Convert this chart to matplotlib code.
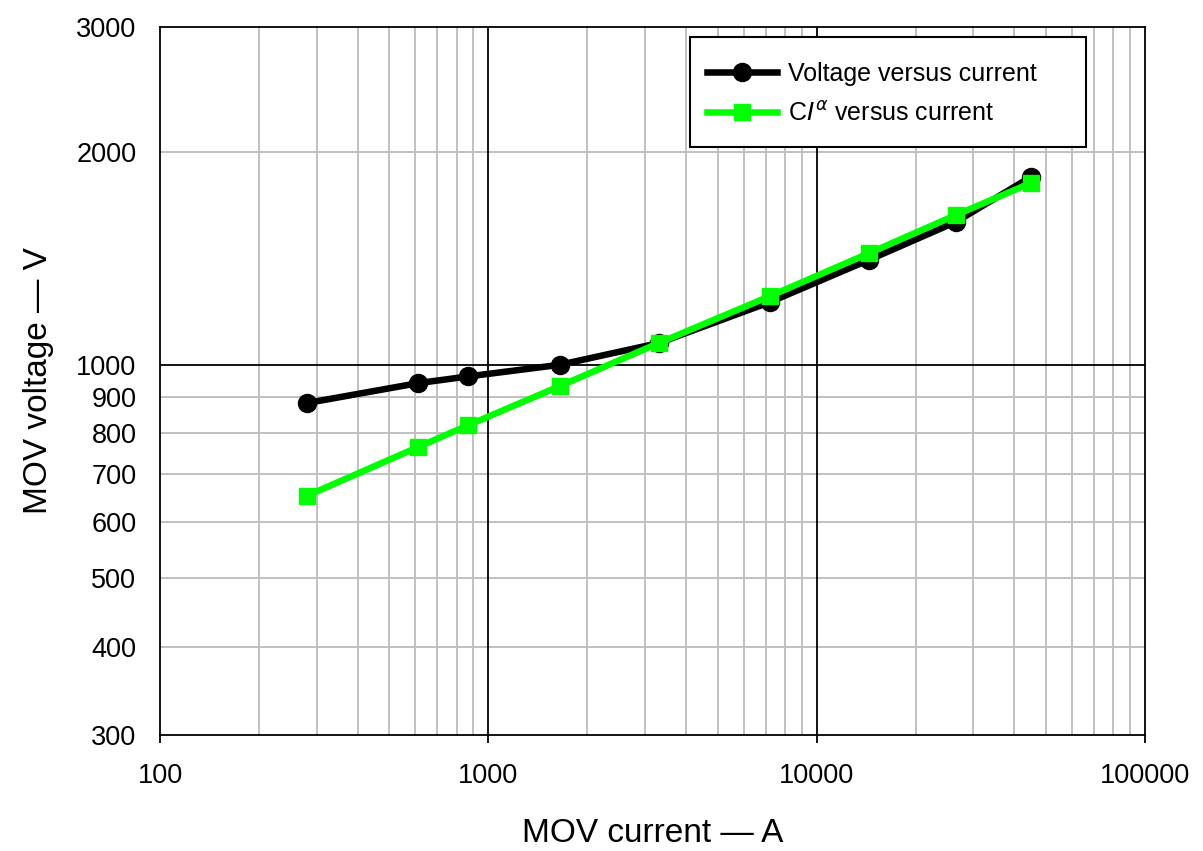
import matplotlib
matplotlib.use("Agg")
import matplotlib.pyplot as plt
from matplotlib.patches import Rectangle
from matplotlib.ticker import FixedLocator, FixedFormatter, NullLocator, NullFormatter

plt.rcParams['font.family'] = ['Liberation Sans', 'DejaVu Sans']

current = [280, 610, 870, 1650, 3300, 7200, 14400, 26500, 45000]
voltage = [883, 942, 963, 1000, 1073, 1226, 1406, 1591, 1843]
ci_alpha = [653, 765, 822, 933, 1073, 1250, 1437, 1627, 1807]

x_ticks = [100, 1000, 10000, 100000]
x_tick_labels = ["100", "1000", "10000", "100000"]
y_ticks = [300, 400, 500, 600, 700, 800, 900, 1000, 2000, 3000]
y_tick_labels = [str(v) for v in y_ticks]

fig = plt.figure(figsize=(12.03, 8.51), dpi=100)
ax = fig.add_axes([160/1203, 1-735/851, (1145-160)/1203, (735-27)/851])
ax.set_xscale('log')
ax.set_yscale('log')
ax.set_xlim(100, 100000)
ax.set_ylim(300, 3000)

# grid lines
for dec in [100, 1000, 10000]:
    for m in range(2, 10):
        ax.axvline(dec*m, color='#c0c0c0', lw=1.4, zorder=0)
for v in [400, 500, 600, 700, 800, 900, 2000]:
    ax.axhline(v, color='#c0c0c0', lw=1.4, zorder=0)
for v in [1000, 10000]:
    ax.axvline(v, color='black', lw=1.3, zorder=0.5)
ax.axhline(1000, color='black', lw=1.3, zorder=0.5)

ax.plot(current, voltage, color='black', lw=4.7, marker='o', markersize=13,
        label='Voltage versus current', zorder=3)
ax.plot(current, ci_alpha, color='#00ff00', lw=4.7, marker='s', markersize=11.5,
        label='C$I^{\\alpha}$ versus current', zorder=4)

ax.xaxis.set_major_locator(FixedLocator(x_ticks))
ax.xaxis.set_major_formatter(FixedFormatter(x_tick_labels))
ax.xaxis.set_minor_locator(NullLocator())
ax.yaxis.set_major_locator(FixedLocator(y_ticks))
ax.yaxis.set_major_formatter(FixedFormatter(y_tick_labels))
ax.yaxis.set_minor_locator(FixedLocator([1000]))
ax.yaxis.set_minor_formatter(NullFormatter())
ax.tick_params(axis='x', which='major', direction='out', length=6, width=1.3,
               labelsize=19.5, pad=14)
ax.tick_params(axis='y', which='major', length=0, labelsize=19.5, pad=17)
ax.tick_params(axis='y', which='minor', direction='out', length=7, width=1.3)

for s in ax.spines.values():
    s.set_linewidth(1.3)
    s.set_color('black')

ax.set_xlabel('MOV current — A', fontsize=24, labelpad=21)
ax.set_ylabel('MOV voltage — V', fontsize=24, labelpad=16)

# legend frame
frame = Rectangle(((690-160)/985, (735-147)/708), 396/985, 110/708,
                  transform=ax.transAxes, facecolor='white', edgecolor='black',
                  lw=1.5, zorder=5)
ax.add_patch(frame)
leg = ax.legend(loc='upper left', bbox_to_anchor=((707-160)/985, (735-62)/708),
                fontsize=18, frameon=False, handlelength=2.8, handletextpad=0.45,
                borderpad=0, borderaxespad=0, labelspacing=0.64)
leg.set_zorder(6)

fig.savefig('out.png', dpi=100)
